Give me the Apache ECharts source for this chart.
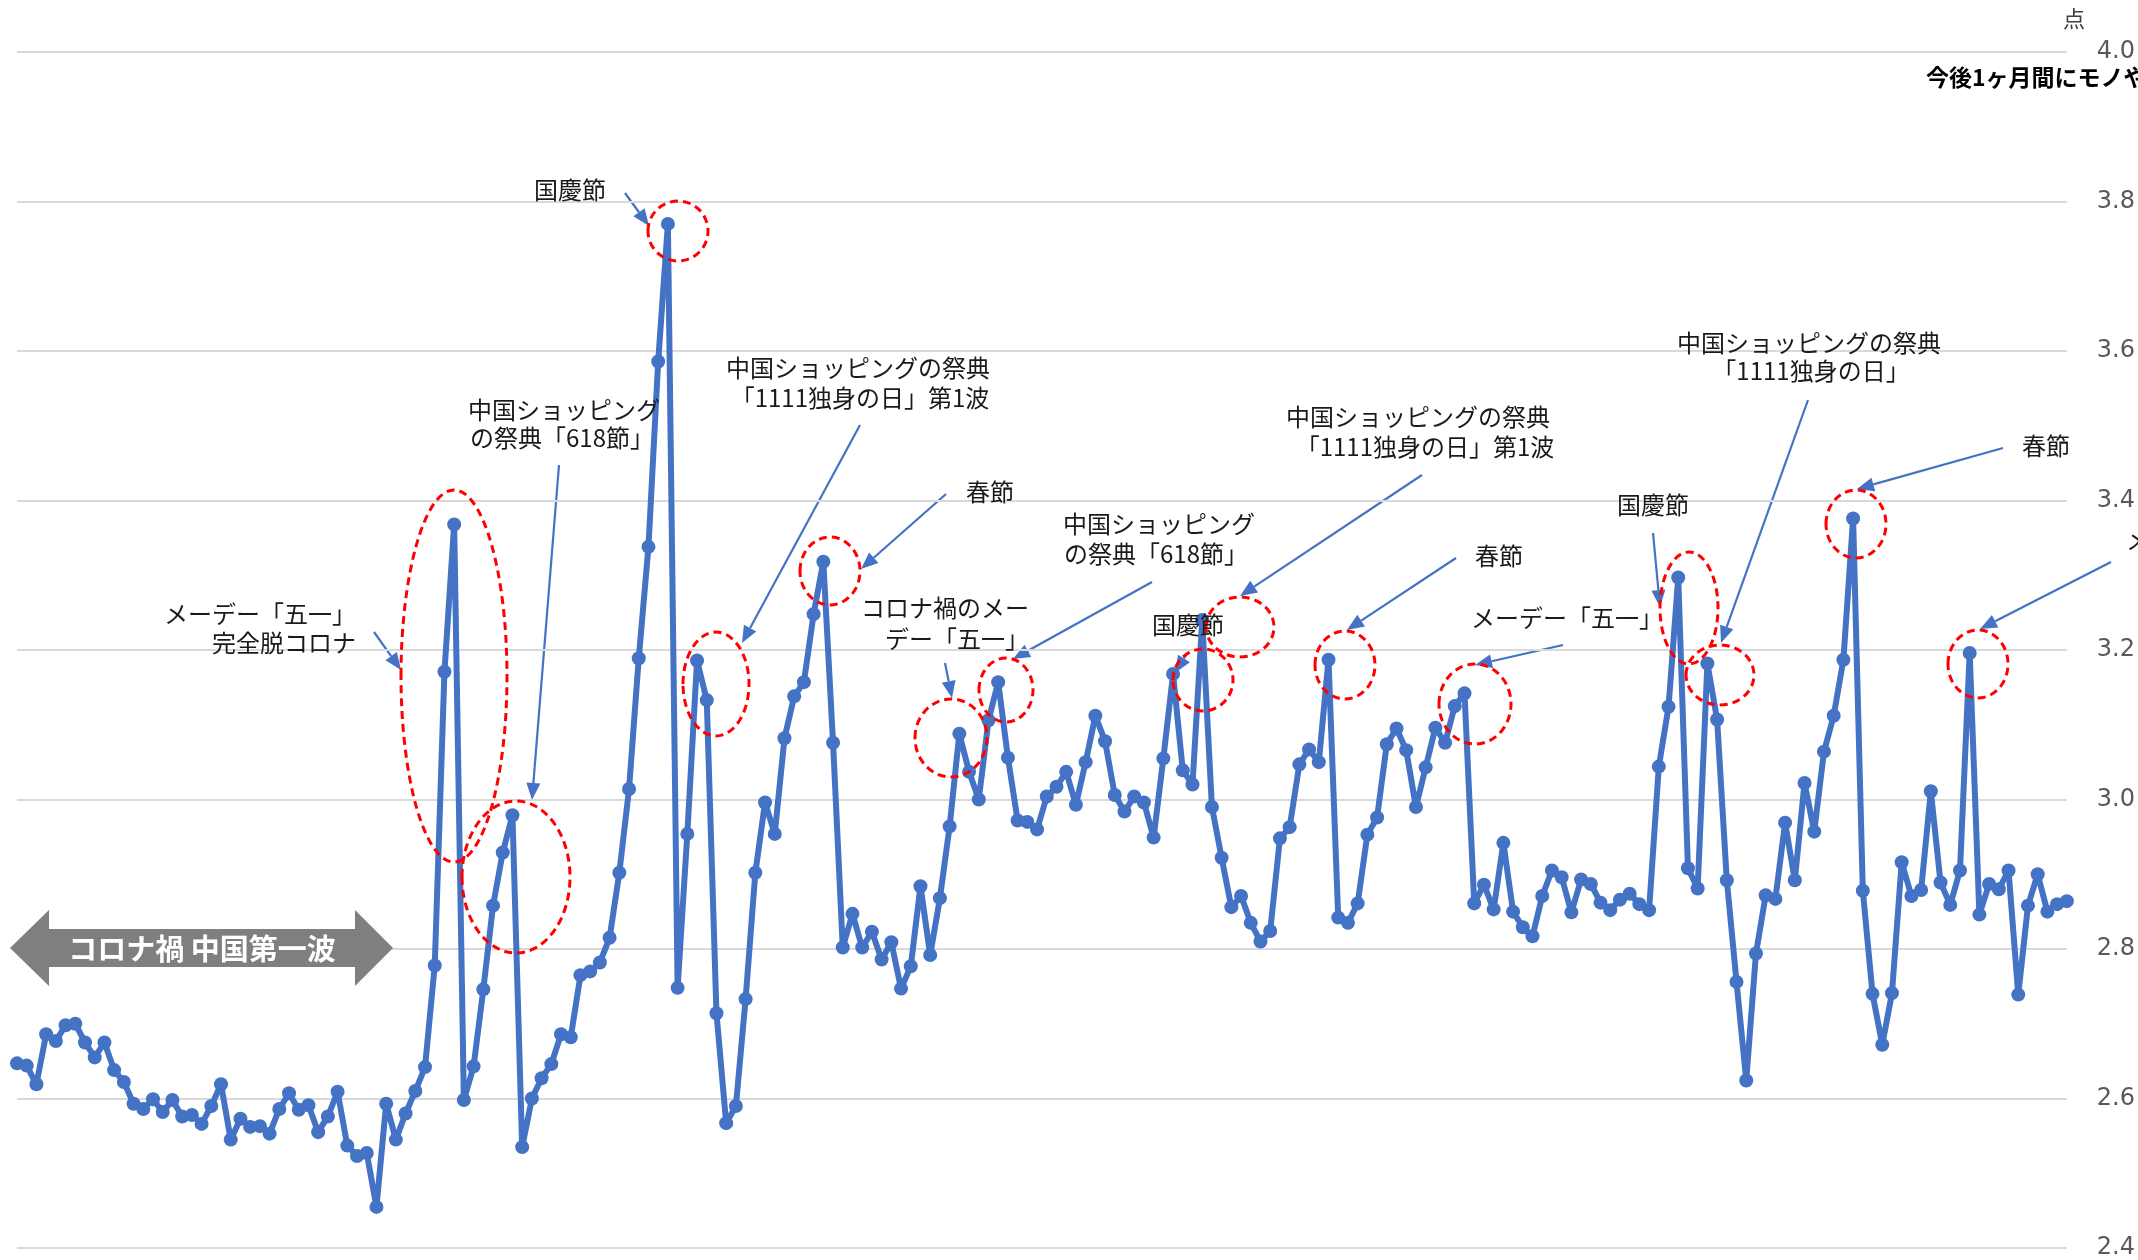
<!DOCTYPE html>
<html>
<head>
<meta charset="utf-8">
<script src="https://cdn.jsdelivr.net/npm/echarts@6/dist/echarts.min.js"></script>
<style>
  html, body { margin: 0; padding: 0; background: #ffffff; }
  #chart { width: 2138px; height: 1260px; }
</style>
</head>
<body>
<div id="chart"></div>
<script>
// ---- data ----
const values = [
  2.647, 2.644, 2.619, 2.686, 2.677, 2.698, 2.700, 2.675, 2.655, 2.675,
  2.638, 2.622, 2.593, 2.586, 2.599, 2.582, 2.598, 2.576, 2.578, 2.566,
  2.590, 2.619, 2.545, 2.573, 2.562, 2.563, 2.553, 2.586, 2.607, 2.585,
  2.591, 2.555, 2.576, 2.609, 2.537, 2.523, 2.527, 2.455, 2.593, 2.545,
  2.580, 2.610, 2.642, 2.778, 3.171, 3.368, 2.598, 2.643, 2.746, 2.858,
  2.929, 2.979, 2.535, 2.600, 2.627, 2.646, 2.686, 2.682, 2.765, 2.770,
  2.782, 2.815, 2.902, 3.014, 3.189, 3.338, 3.586, 3.770, 2.748, 2.954,
  3.186, 3.133, 2.714, 2.567, 2.590, 2.733, 2.902, 2.996, 2.954, 3.082,
  3.138, 3.157, 3.248, 3.318, 3.076, 2.802, 2.847, 2.802, 2.823, 2.786,
  2.809, 2.747, 2.777, 2.884, 2.792, 2.868, 2.964, 3.088, 3.037, 3.000,
  3.106, 3.157, 3.056, 2.972, 2.970, 2.960, 3.004, 3.017, 3.037, 2.993,
  3.050, 3.112, 3.078, 3.006, 2.984, 3.004, 2.996, 2.949, 3.055, 3.168,
  3.039, 3.020, 3.240, 2.990, 2.922, 2.856, 2.871, 2.835, 2.810, 2.824,
  2.948, 2.963, 3.047, 3.067, 3.050, 3.187, 2.842, 2.835, 2.861, 2.953,
  2.976, 3.074, 3.095, 3.066, 2.990, 3.043, 3.096, 3.076, 3.125, 3.142,
  2.861, 2.886, 2.853, 2.942, 2.850, 2.829, 2.817, 2.871, 2.905, 2.896,
  2.849, 2.893, 2.887, 2.862, 2.852, 2.866, 2.874, 2.860, 2.852, 3.044,
  3.124, 3.297, 2.908, 2.881, 3.182, 3.107, 2.892, 2.756, 2.624, 2.794,
  2.872, 2.867, 2.969, 2.892, 3.022, 2.957, 3.064, 3.112, 3.187, 3.376,
  2.878, 2.740, 2.672, 2.741, 2.916, 2.871, 2.879, 3.011, 2.889, 2.859,
  2.905, 3.196, 2.846, 2.887, 2.880, 2.905, 2.739, 2.858, 2.900, 2.850,
  2.860, 2.864
];
const categories = values.map((_, i) => String(i + 1));
const yMin = 2.4;
const yMax = 4.0;
const yStep = 0.2;
const unitLabel = '点';
const titleText = '今後1ヶ月間にモノやサービスを購入する意向';

// ---- annotation texts ----
const noteTexts = [
  'メーデー「五一」', '完全脱コロナ',
  '中国ショッピング', 'の祭典「618節」',
  '国慶節',
  '中国ショッピングの祭典', '「1111独身の日」第1波',
  '春節',
  'コロナ禍のメー', 'デー「五一」',
  '中国ショッピング', 'の祭典「618節」',
  '国慶節',
  '中国ショッピングの祭典', '「1111独身の日」第1波',
  '春節',
  'メーデー「五一」',
  '国慶節',
  '中国ショッピングの祭典', '「1111独身の日」',
  '春節',
  'メーデー「五一」'
];
const bandText = 'コロナ禍 中国第一波';

// ---- layout of annotations (pixels) ----
const noteLayout = [
  [356, 614, 'right'], [356, 643, 'right'],
  [564, 410, 'center'], [562, 438, 'center'],
  [570, 190, 'center'],
  [858, 368, 'center'], [860, 398, 'center'],
  [990, 492, 'center'],
  [1029, 608, 'right'], [1029, 639, 'right'],
  [1159, 524, 'center'], [1156, 554, 'center'],
  [1188, 625, 'center'],
  [1418, 417, 'center'], [1425, 447, 'center'],
  [1499, 556, 'center'],
  [1471, 618, 'left'],
  [1653, 505, 'center'],
  [1809, 343, 'center'], [1811, 371, 'center'],
  [2046, 446, 'center'],
  [2126, 540, 'left']
];
const arrowLayout = [
  [374, 632, 401, 670], [559, 465, 532, 800], [625, 193, 649, 226],
  [860, 425, 742, 643], [946, 494, 861, 569], [945, 663, 952, 698],
  [1152, 582, 1013, 659], [1188, 652, 1175, 673], [1422, 475, 1240, 596],
  [1456, 558, 1347, 630], [1563, 645, 1475, 665], [1653, 533, 1660, 607],
  [1808, 400, 1721, 643], [2003, 448, 1857, 489], [2111, 562, 1980, 629]
];
const ellipseLayout = [
  [454, 676, 53, 186], [516, 877, 54, 76], [678, 231, 30, 30],
  [716, 684, 33, 52], [830, 571, 30, 34], [951, 738, 36, 39],
  [1006, 690, 27, 32], [1203, 680, 30, 31], [1240, 627, 34, 30],
  [1345, 665, 30, 34], [1475, 704, 36, 40], [1689, 608, 29, 56],
  [1720, 675, 34, 30], [1856, 524, 30, 34], [1978, 664, 30, 34]
];

const JP = '"Noto Sans CJK JP", "Noto Sans", sans-serif';
const BLUE = '#4472C4';

function arrow(x1, y1, x2, y2) {
  const dx = x2 - x1, dy = y2 - y1;
  const len = Math.sqrt(dx * dx + dy * dy);
  const ux = dx / len, uy = dy / len;
  const hl = 17, hw = 7;
  const bx = x2 - ux * hl, by = y2 - uy * hl;
  return {
    type: 'group', z: 100,
    children: [
      { type: 'line', shape: { x1: x1, y1: y1, x2: bx, y2: by },
        style: { stroke: BLUE, lineWidth: 2.2 } },
      { type: 'polygon',
        shape: { points: [[x2, y2], [bx - uy * hw, by + ux * hw], [bx + uy * hw, by - ux * hw]] },
        style: { fill: BLUE } }
    ]
  };
}

const graphics = [];
// grey double arrow band
graphics.push({
  type: 'polygon', z: 90,
  shape: { points: [[10, 948], [49, 910], [49, 929], [355, 929], [355, 910], [393, 948],
                    [355, 986], [355, 967], [49, 967], [49, 986]] },
  style: { fill: '#7f7f7f' }
});
graphics.push({
  type: 'text', z: 91, x: 202, y: 949,
  style: { text: bandText, fill: '#ffffff', font: 'bold 29px ' + JP,
           textAlign: 'center', textVerticalAlign: 'middle' }
});
ellipseLayout.forEach(e => graphics.push({
  type: 'ellipse', z: 95,
  shape: { cx: e[0], cy: e[1], rx: e[2], ry: e[3] },
  style: { fill: 'none', stroke: '#ff0000', lineWidth: 3, lineDash: [8, 5] }
}));
arrowLayout.forEach(a => graphics.push(arrow(a[0], a[1], a[2], a[3])));
noteTexts.forEach((t, i) => {
  const p = noteLayout[i];
  graphics.push({
    type: 'text', z: 110, x: p[0], y: p[1],
    style: { text: t, fill: '#1a1a1a', font: '24px ' + JP,
             textAlign: p[2], textVerticalAlign: 'middle' }
  });
});
graphics.push({
  type: 'text', z: 110, x: 2074, y: 19,
  style: { text: unitLabel, fill: '#404040', font: '22px ' + JP,
           textAlign: 'center', textVerticalAlign: 'middle' }
});
graphics.push({
  type: 'text', z: 110, x: 1926, y: 77,
  style: { text: titleText, fill: '#000000', font: 'bold 23px ' + JP,
           textAlign: 'left', textVerticalAlign: 'middle' }
});

const chart = echarts.init(document.getElementById('chart'), null, { renderer: 'canvas' });
chart.setOption({
  animation: false,
  backgroundColor: '#ffffff',
  grid: { left: 17, right: 71, top: 52, bottom: 8, containLabel: false },
  xAxis: {
    type: 'category', data: categories, boundaryGap: false,
    axisLine: { show: false }, axisTick: { show: false }, axisLabel: { show: false },
    splitLine: { show: false }
  },
  yAxis: {
    type: 'value', position: 'right', min: yMin, max: yMax, interval: yStep,
    axisLine: { show: false }, axisTick: { show: false },
    axisLabel: { formatter: v => v.toFixed(1), color: '#595959', fontSize: 24,
                 fontFamily: '"DejaVu Sans", sans-serif', margin: 30 },
    splitLine: { lineStyle: { color: '#d9d9d9', width: 2 } }
  },
  series: [{
    type: 'line', data: values, symbol: 'circle', symbolSize: 14, showAllSymbol: true,
    lineStyle: { color: BLUE, width: 6 }, itemStyle: { color: BLUE },
    z: 10
  }],
  graphic: graphics
});
</script>
</body>
</html>
